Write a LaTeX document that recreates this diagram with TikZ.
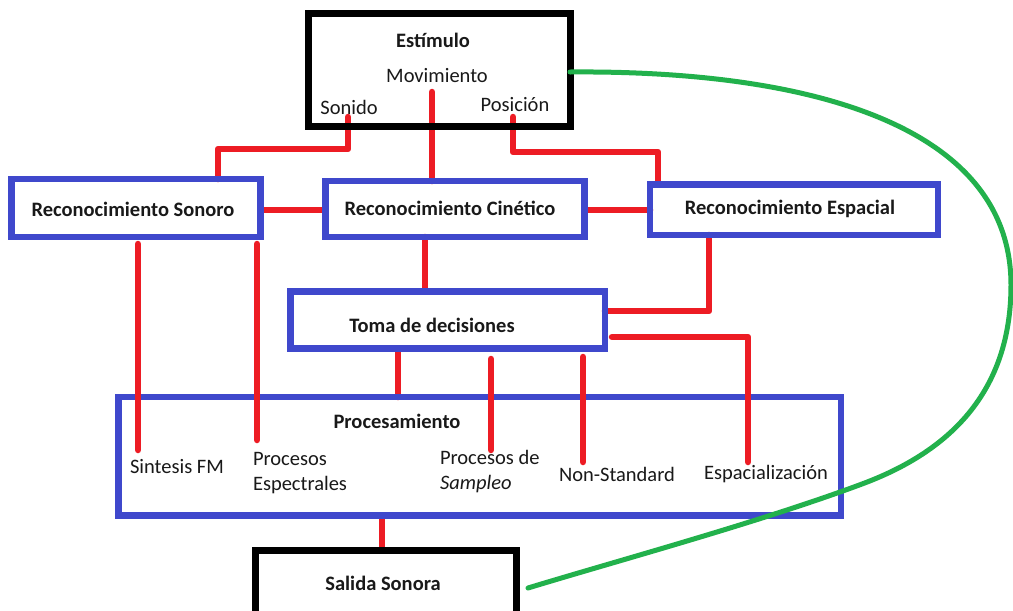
\documentclass[tikz,border=0pt]{standalone}
\usepackage{fontspec}
\setmainfont{Carlito}
\begin{document}
\begin{tikzpicture}[x=1pt,y=-1pt,
  every node/.style={font=\fontsize{20.5}{24.5}\selectfont, text=black!90, inner sep=0pt, outer sep=0pt},
  bluebox/.style={draw=paintblue, line width=6.5pt},
  blackbox/.style={draw=black, line width=7pt},
  title/.style={font=\fontsize{20.5}{24.5}\selectfont\bfseries},
  redline/.style={draw=paintred, line width=6.5pt, line cap=round, line join=round},
  greenline/.style={draw=paintgreen, line width=5pt, line cap=round}]
\definecolor{paintblue}{RGB}{63,72,204}
\definecolor{paintred}{RGB}{237,28,36}
\definecolor{paintgreen}{RGB}{34,177,76}

\clip (0,0) rectangle (1013,611);
\fill[white] (0,0) rectangle (1013,611);

% boxes (empty nodes sized by their borders)
\node[blackbox, minimum width=261.5pt, minimum height=113pt] (est) at (439.25,70) {};
\node[bluebox, minimum width=249pt, minimum height=58pt] (sonoro) at (136,208) {};
\node[bluebox, minimum width=259pt, minimum height=56pt] (cinetico) at (455,209) {};
\node[bluebox, minimum width=288pt, minimum height=50.5pt] (espacial) at (794,209.75) {};
\node[bluebox, minimum width=314.5pt, minimum height=57pt] (toma) at (447.75,320) {};
\node[bluebox, minimum width=722.5pt, minimum height=118.5pt] (proc) at (479.75,456.25) {};
\node[blackbox, minimum width=261pt, minimum height=64pt] (salida) at (385.5,582.5) {};

% texts
\node[title] (tEst) at (433,40) {Estímulo};
\node (tMov) at (437,76) {Movimiento};
\node (tSon) at (349,107) {Sonido};
\node (tPos) at (515,105) {Posición};
\node[title] (tSonoro) at (133,209) {Reconocimiento Sonoro};
\node[title] (tCin) at (450,208) {Reconocimiento Cinético};
\node[title] (tEsp) at (790,209) {Reconocimiento Espacial};
\node[title] (tToma) at (432,325) {Toma de decisiones};
\node[title] (tProc) at (397,421) {Procesamiento};
\node (tFM) at (177,467) {Sintesis FM};
\node[anchor=west, align=left] (tEspec) at (253,473) {Procesos\\Espectrales};
\node[anchor=west, align=left] (tSamp) at (440,471.5) {Procesos de\\\textit{Sampleo}};
\node (tNon) at (617,474) {Non-Standard};
\node (tEspz) at (766,474) {Espacialización};
\node[title] (tSal) at (383,583) {Salida Sonora};

% free ends of connectors
\coordinate (sonB) at (348,117);
\coordinate (movB) at (432,92);
\coordinate (posB) at (513,117);
\coordinate (fmT) at (138,450);
\coordinate (espT) at (257,440);
\coordinate (sonA) at (138,244);
\coordinate (sonC) at (257,244);
\coordinate (sampT) at (491,450);
\coordinate (sampA) at (491,359);
\coordinate (nonT) at (583,462);
\coordinate (nonA) at (583,357);
\coordinate (spzA) at (612,337);
\coordinate (spzT) at (748,462);

% connectors that end on box borders
\draw[redline] (sonB) -- (348,149) -| (sonoro.north -| 218,0);
\draw[redline] (movB) -- (movB |- cinetico.north);
\draw[redline] (posB) -- (513,152) -| (espacial.north -| 658,0);
\draw[redline] (sonoro.east |- 0,210) -- (cinetico.west |- 0,210);
\draw[redline] (cinetico.east |- 0,210) -- (espacial.west |- 0,210);
\draw[redline] (cinetico.south -| 425,0) -- (toma.north -| 425,0);
\draw[redline] (espacial.south -| 709,0) |- (toma.east |- 0,311);
\draw[redline] (toma.south -| 398,0) -- (proc.north -| 398,0);
\draw[redline] (proc.south -| 382,0) -- (salida.north -| 382,0);

% redraw borders over the joints
\node[blackbox, minimum width=261.5pt, minimum height=113pt] at (est) {};
\node[bluebox, minimum width=249pt, minimum height=58pt] at (sonoro) {};
\node[bluebox, minimum width=259pt, minimum height=56pt] at (cinetico) {};
\node[bluebox, minimum width=288pt, minimum height=50.5pt] at (espacial) {};
\node[bluebox, minimum width=314.5pt, minimum height=57pt] at (toma) {};
\node[bluebox, minimum width=722.5pt, minimum height=118.5pt] at (proc) {};
\node[blackbox, minimum width=261pt, minimum height=64pt] at (salida) {};

% connectors that run into the processing box
\draw[redline] (sonA) -- (fmT);
\draw[redline] (sonC) -- (espT);
\draw[redline] (sampA) -- (sampT);
\draw[redline] (nonA) -- (nonT);
\draw[redline] (spzA) -- (748,337) -- (spzT);

% feedback curve from the stimulus to the sound output
\coordinate (gA) at (est.east |- 0,72);
\coordinate (gB) at (528,588);
\draw[greenline] (gA) .. controls (820,70) and (1011,130) .. (1011,285)
  .. controls (1011,400) and (940,455) .. (862,484)
  .. controls (760,522) and (620,560) .. (gB);
\end{tikzpicture}
\end{document}
